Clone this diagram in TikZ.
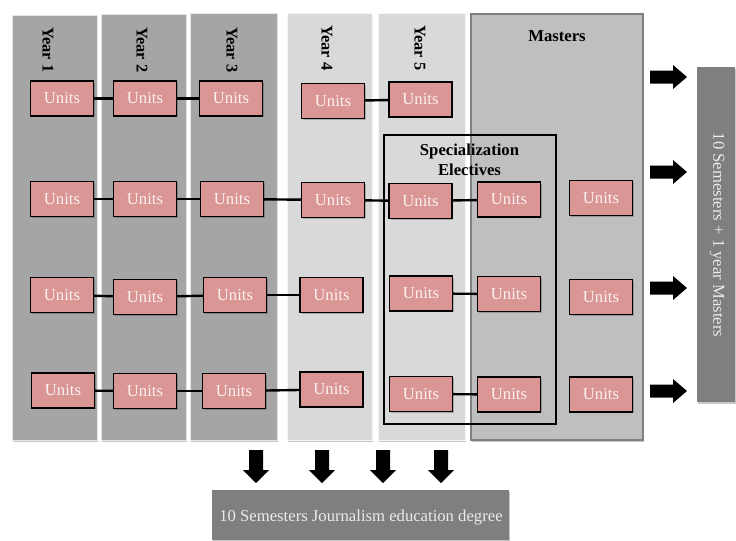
\documentclass[tikz,border=0pt]{standalone}
\usepackage{fontspec}
\setmainfont{Liberation Serif}

\definecolor{unitfill}{HTML}{DA9694}
\definecolor{darkcol}{HTML}{A5A5A5}
\definecolor{lightcol}{HTML}{D9D9D9}
\definecolor{mastercol}{HTML}{BFBFBF}
\definecolor{outbox}{HTML}{7F7F7F}
\definecolor{unittext}{HTML}{FBF1F1}

\begin{document}
\begin{tikzpicture}[x=0.75pt,y=-0.75pt,
  softshadow/.style={preaction={fill=black, opacity=0.22, draw=none,
    transform canvas={xshift=1pt, yshift=-1.2pt}}},
  darkyear/.style={fill=darkcol, draw=white!90!black, line width=0.7pt, softshadow},
  lightyear/.style={fill=lightcol, draw=white!96!black, line width=0.7pt, softshadow},
  masterscol/.style={fill=mastercol, draw=black!50, line width=0.8pt, softshadow},
  specbox/.style={draw=black, line width=0.9pt},
  unitbox/.style={draw=black, line width=1.1pt, fill=unitfill, text=unittext,
    minimum width=47pt, minimum height=26pt, inner sep=0pt,
    font=\fontsize{12.5}{15}\selectfont, softshadow},
  yearlabel/.style={font=\fontsize{12.3}{14}\selectfont\bfseries, inner sep=0pt,
    rotate=-90, anchor=west},
  headlabel/.style={font=\fontsize{12.5}{15}\selectfont\bfseries, inner sep=0pt, align=center},
  link/.style={draw=black, line width=1.8pt},
  outlabel/.style={font=\fontsize{12.5}{15}\selectfont, text=white!92!black, inner sep=0pt},
  pics/blockright/.style={code={
    \fill[black] (-18.5,-6.5) -- (4.5,-6.5) -- (4.5,-12) -- (18.5,0)
      -- (4.5,12) -- (4.5,6.5) -- (-18.5,6.5) -- cycle;}},
  pics/blockdown/.style={code={
    \fill[black] (-7,-16.5) -- (7,-16.5) -- (7,3.5) -- (13,3.5)
      -- (0,16.5) -- (-13,3.5) -- (-7,3.5) -- cycle;}}
]
\useasboundingbox[fill=white] (0,0) rectangle (736,540);

% year columns
\path[darkyear] (12,15) rectangle (97,440);
\path[darkyear] (101,14) rectangle (186,440);
\path[darkyear] (190,13) rectangle (277,440);
\path[lightyear] (287,13) rectangle (372,440);
\path[lightyear] (378,13) rectangle (465,440);
% masters column
\path[masterscol] (471,14) rectangle (643,440);
% specialization electives frame
\path[specbox] (384,135) rectangle (556,424);

% column headings
\node[yearlabel] (y1) at (48,27) {Year 1};
\node[yearlabel] (y2) at (142,27) {Year 2};
\node[yearlabel] (y3) at (232,27) {Year 3};
\node[yearlabel] (y4) at (327,25) {Year 4};
\node[yearlabel] (y5) at (420,25) {Year 5};
\node[headlabel] (mh) at (557,36) {Masters};
\node[headlabel] (sh) at (469.5,160) {Specialization\\Electives};

% units, row 1
\node[unitbox] (u11) at (62,98.5) {Units};
\node[unitbox] (u12) at (145,98.5) {Units};
\node[unitbox] (u13) at (231,98.5) {Units};
\node[unitbox] (u14) at (333,101) {Units};
\node[unitbox] (u15) at (420.5,99.5) {Units};
% row 2
\node[unitbox] (u21) at (62,199) {Units};
\node[unitbox] (u22) at (145,199) {Units};
\node[unitbox] (u23) at (232,199) {Units};
\node[unitbox] (u24) at (333,200) {Units};
\node[unitbox] (u25) at (420.5,201) {Units};
\node[unitbox] (u26) at (509,199.5) {Units};
\node[unitbox] (u27) at (601,198) {Units};
% row 3
\node[unitbox] (u31) at (62,295) {Units};
\node[unitbox] (u32) at (145,297) {Units};
\node[unitbox] (u33) at (235,295) {Units};
\node[unitbox] (u34) at (331.5,295) {Units};
\node[unitbox] (u35) at (421,293.5) {Units};
\node[unitbox] (u36) at (509,294) {Units};
\node[unitbox] (u37) at (601,297) {Units};
% row 4
\node[unitbox] (u41) at (63,390.5) {Units};
\node[unitbox] (u42) at (145,391) {Units};
\node[unitbox] (u43) at (234,391) {Units};
\node[unitbox] (u44) at (331.5,389.5) {Units};
\node[unitbox] (u45) at (421,394) {Units};
\node[unitbox] (u46) at (509,394.5) {Units};
\node[unitbox] (u47) at (601,394.5) {Units};

% links between units
\draw[link] (u11) -- (u12);
\draw[link] (u12) -- (u13);
\draw[link] (u14) -- (u15);
\draw[link] (u21) -- (u22);
\draw[link] (u22) -- (u23);
\draw[link] (u23) -- (u24);
\draw[link] (u24) -- (u25);
\draw[link] (u25) -- (u26);
\draw[link] (u31) -- (u32);
\draw[link] (u32) -- (u33);
\draw[link] (u33) -- (u34);
\draw[link] (u35) -- (u36);
\draw[link] (u41) -- (u42);
\draw[link] (u42) -- (u43);
\draw[link] (u43) -- (u44);
\draw[link] (u45) -- (u46);

% outcome boxes
\path[fill=outbox, softshadow] (697,67) rectangle (735,402);
\node[outlabel, rotate=-90] (masters) at (717,235) {10 Semesters + 1 year Masters};
\path[fill=outbox, softshadow] (212,490) rectangle (509,540);
\node[outlabel] (degree) at (361,518) {10 Semesters Journalism education degree};

% block arrows
\pic at (668.5,77) {blockright};
\pic at (668.5,172) {blockright};
\pic at (668.5,288) {blockright};
\pic at (668.5,391) {blockright};
\pic at (256,466.5) {blockdown};
\pic at (322,466.5) {blockdown};
\pic at (383,466.5) {blockdown};
\pic at (441,466.5) {blockdown};
\end{tikzpicture}
\end{document}
